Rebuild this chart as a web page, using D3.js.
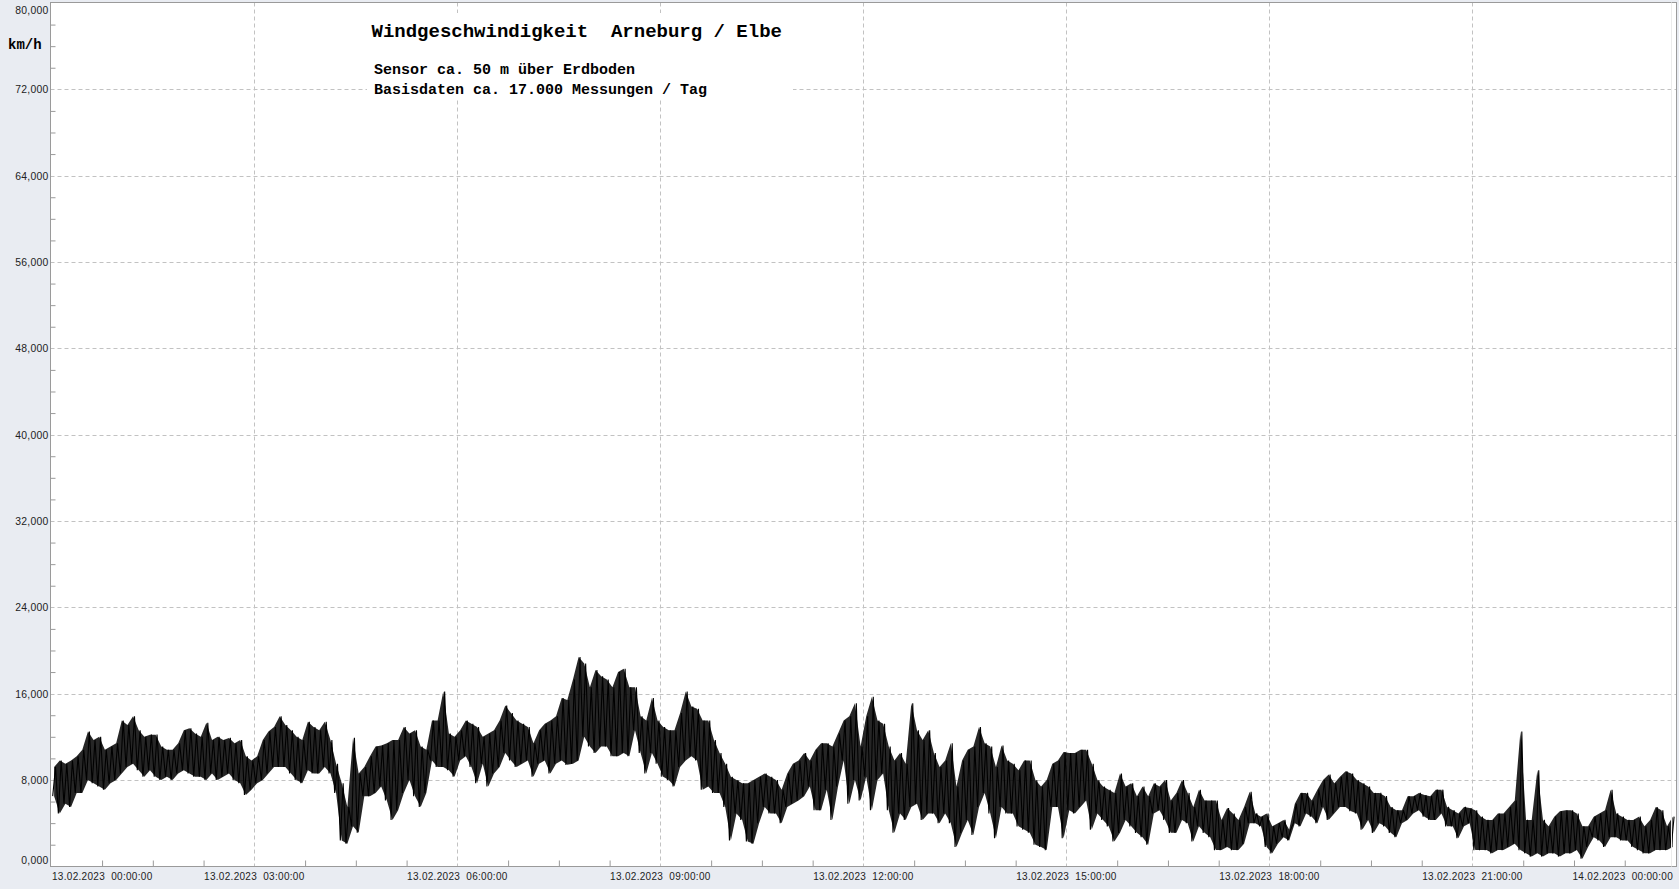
<!DOCTYPE html>
<html><head><meta charset="utf-8">
<script src="https://cdn.jsdelivr.net/npm/d3@7/dist/d3.min.js"></script>
<style>
html,body{margin:0;padding:0;background:#e9ecf2;overflow:hidden}
svg{display:block}
</style></head><body>
<svg id="chart" width="1679" height="889"></svg>
<script>
// ---- data ----
const startTime = new Date(2023, 1, 13, 0, 0, 0);
const endTime = new Date(2023, 1, 14, 0, 0, 0);
const binMinutes = 5;
// per 5-minute window: highest and lowest reading (km/h), one row = one hour
const hiValues = [
 9.2, 9.8, 9.5, 9.8,10.2,10.8,12.5,11.7,12.0,10.8,11.1,11.4,
13.5,13.1,13.9,12.6,12.0,12.2,12.2,11.1,10.8,10.8,11.4,12.6,
12.8,12.3,12.0,13.3,11.7,12.0,11.7,11.9,11.4,11.7,10.2, 9.8,
10.2,11.7,12.5,12.9,13.9,13.1,12.6,12.0,11.7,13.4,12.9,12.6,
13.4,11.7, 9.5, 7.7, 5.5,11.9, 8.6, 9.2,10.2,11.1,11.2,11.4,
11.7,11.7,12.9,12.3,12.6,11.1,10.8,13.5,13.5,16.2,12.3,12.0,
12.6,13.5,13.2,12.9,12.0,12.3,12.6,13.5,14.9,14.2,13.5,13.2,
12.9,11.4,12.6,13.2,13.5,13.9,15.6,15.4,17.3,19.4,18.8,16.6,
18.2,17.6,17.3,16.6,18.0,18.3,16.6,16.6,13.9,13.5,15.6,13.5,
12.9,12.6,12.6,14.2,16.2,14.8,14.6,13.5,13.5,11.7,10.5, 9.5,
 8.3, 8.0, 7.7, 7.7, 8.0, 8.3, 8.6, 8.3, 8.0, 7.1, 8.6, 9.5,
 9.8,10.5, 9.8,10.8,11.4,11.4,11.1,12.3,13.5,13.9,15.1,11.1,
13.9,15.7,13.5,13.2,11.1, 9.8,10.5, 9.5,15.1,12.6,11.7,12.6,
10.5, 9.2, 9.8,11.4, 7.4, 9.8,10.8,11.1,12.9,11.4,11.1, 9.2,
11.2, 9.8, 9.5, 8.9, 9.8, 9.8, 8.0, 7.4, 8.0, 9.5, 9.8,10.6,
10.5,10.5,10.8,10.8, 9.5, 8.0, 7.4, 7.1, 6.8, 8.6, 7.4, 7.7,
 6.5, 7.4, 6.5, 7.7, 7.4, 8.0, 6.1, 6.8, 8.0, 6.8, 5.5, 7.1,
 6.1, 6.1, 6.1, 4.3, 5.4, 4.9, 4.3, 5.5, 6.9, 4.9, 4.6, 4.9,
 3.7, 4.0, 4.3, 3.4, 5.8, 6.8, 6.8, 6.1, 7.1, 8.0, 8.5, 7.7,
 8.3, 8.8, 8.6, 8.0, 7.7, 7.4, 6.8, 6.8, 6.5, 5.5, 5.2, 5.2,
 6.5, 6.5, 6.8, 6.6, 6.5, 7.1, 7.1, 5.5, 5.2, 4.9, 5.5, 5.4,
 5.2, 4.6, 4.3, 4.3, 4.9, 4.9, 5.5, 6.1,12.5, 4.3, 4.3, 8.9,
 4.3, 3.7, 4.6, 5.1, 5.2, 5.2, 4.9, 3.7, 3.7, 4.6, 4.9, 5.2,
 7.1, 4.9, 4.6, 4.3, 4.3, 4.6, 3.7, 4.3, 5.5, 5.2, 3.7, 4.6
];
const loValues = [
 6.5, 4.9, 5.8, 5.5, 6.8, 6.8, 8.0, 7.7, 7.4, 7.1, 7.7, 8.0,
 8.6, 9.2, 9.5, 8.9, 8.3, 8.9, 8.3, 8.0, 8.3, 8.0, 8.6, 8.9,
 8.6, 8.3, 8.3, 8.0, 8.6, 8.0, 8.3, 8.6, 8.0, 7.7, 6.6, 7.1,
 7.7, 8.0, 8.6, 9.2, 9.2, 9.2, 8.6, 8.0, 7.7, 8.9, 8.6, 8.6,
 9.2, 8.6, 6.8, 2.4, 2.1, 3.7, 3.1, 6.5, 6.5, 6.8, 7.4, 6.1,
 4.3, 5.2, 6.8, 8.0, 6.5, 5.5, 6.8, 9.8, 9.2, 9.2, 8.9, 8.3,
 9.8,10.2, 9.2, 7.7, 9.5, 7.4, 8.6, 9.2,10.5, 9.8, 9.2, 9.5,
 9.8, 8.3, 9.5, 9.8, 8.6, 9.5, 9.8, 9.4, 9.5, 9.8,12.0,11.1,
10.5,11.1,11.1,10.2,10.2,10.5,10.2,12.6,10.5, 8.6,10.5, 9.5,
 8.3, 8.0, 7.4, 9.2, 9.8,10.2, 9.8, 7.1, 7.4, 6.8, 6.8, 5.5,
 2.4, 4.9, 4.3, 2.3, 2.1, 4.0, 5.5, 4.9, 4.9, 4.0, 5.5, 5.8,
 6.1, 6.5, 7.4, 5.2, 5.2, 7.1, 4.3, 7.4, 9.8, 5.8, 8.0, 6.1,
 8.3, 5.2, 8.0, 8.6, 5.2, 3.1, 4.9, 4.3, 5.5, 5.8, 4.3, 4.9,
 4.9, 4.0, 4.9, 4.0, 1.8, 3.1, 4.3, 2.9, 5.5, 6.8, 4.9, 2.6,
 5.5, 4.9, 4.9, 3.7, 3.4, 3.1, 2.0, 1.8, 1.5, 5.5, 5.5, 2.6,
 5.2, 4.9, 5.5, 6.1, 3.4, 4.9, 4.3, 3.7, 2.3, 3.1, 4.3, 3.7,
 3.1, 2.7, 2.0, 4.9, 5.2, 4.3, 3.1, 3.1, 4.3, 4.0, 2.3, 3.7,
 3.1, 2.7, 1.5, 1.5, 1.8, 1.5, 1.5, 2.1, 4.0, 4.0, 3.7, 1.8,
 1.2, 2.1, 2.7, 2.4, 4.0, 3.7, 4.9, 4.6, 4.0, 5.5, 4.3, 4.9,
 5.5, 5.5, 5.1, 4.9, 3.4, 4.3, 3.1, 4.0, 3.7, 3.1, 2.7, 4.0,
 4.3, 4.9, 5.2, 4.6, 4.3, 4.3, 4.9, 3.7, 3.7, 2.6, 3.7, 4.0,
 1.5, 1.5, 1.5, 1.2, 1.5, 1.5, 1.8, 2.1, 1.5, 1.2, 0.9, 1.2,
 0.9, 1.2, 1.2, 0.9, 1.2, 1.2, 1.5, 0.7, 1.8, 2.7, 2.4, 1.8,
 2.7, 2.7, 2.4, 2.4, 1.8, 1.5, 1.2, 1.2, 1.5, 1.5, 1.5, 1.8
];
const yTickValues = [0, 8, 16, 24, 32, 40, 48, 56, 64, 72, 80];
const yTickLabels = ["0,000","8,000","16,000","24,000","32,000","40,000","48,000","56,000","64,000","72,000","80,000"];
const xTickHours = [0, 3, 6, 9, 12, 15, 18, 21, 24];
const xTickLabels = ["13.02.2023  00:00:00","13.02.2023  03:00:00","13.02.2023  06:00:00","13.02.2023  09:00:00",
  "13.02.2023  12:00:00","13.02.2023  15:00:00","13.02.2023  18:00:00","13.02.2023  21:00:00","14.02.2023  00:00:00"];
const titleText = "Windgeschwindigkeit  Arneburg / Elbe";
const subtitleLines = ["Sensor ca. 50 m über Erdboden", "Basisdaten ca. 17.000 Messungen / Tag"];
const unitLabel = "km/h";

// ---- drawing ----
const svg = d3.select("#chart");
const plotLeft = 50.5, plotRight = 1676.5, plotTop = 2.5, plotBottom = 866.5;
const x = d3.scaleTime().domain([startTime, endTime]).range([51.3, 1675.5]);
const y = d3.scaleLinear().domain([0, 80]).range([866.3, 3]);
const hourDate = h => d3.timeHour.offset(startTime, h);

svg.append("rect").attr("width", 1679).attr("height", 889).attr("fill", "#e9ecf2");
svg.append("rect").attr("x", plotLeft).attr("y", plotTop)
  .attr("width", plotRight - plotLeft).attr("height", plotBottom - plotTop).attr("fill", "#fff");

const grid = svg.append("g").attr("stroke", "#c2c2c2").attr("stroke-width", 1).attr("stroke-dasharray", "4,3");
grid.selectAll("line.h").data(yTickValues.filter(v => v > 0 && v < 80)).join("line")
  .attr("x1", plotLeft).attr("x2", plotRight)
  .attr("y1", d => Math.round(y(d)) + 0.5).attr("y2", d => Math.round(y(d)) + 0.5);
grid.selectAll("line.v").data(xTickHours.filter(h => h > 0 && h < 24)).join("line")
  .attr("x1", d => Math.round(x(hourDate(d))) + 0.5).attr("x2", d => Math.round(x(hourDate(d))) + 0.5)
  .attr("y1", plotTop).attr("y2", plotBottom);

// minor ticks (axis generators)
const yMinor = d3.range(2, 80, 2).filter(v => v % 8 !== 0);
const yAxis = d3.axisLeft(y).tickValues(yMinor).tickSize(-5).tickFormat("");
const gy = svg.append("g").attr("transform", `translate(${plotLeft},0)`).call(yAxis);
gy.select(".domain").remove();
gy.selectAll("line").attr("stroke", "#9a9a9a");
const xMinor = d3.range(45, 24 * 60, 45).filter(m => m % 180 !== 0).map(m => d3.timeMinute.offset(startTime, m));
const xAxis = d3.axisBottom(x).tickValues(xMinor).tickSize(-6).tickFormat("");
const gx = svg.append("g").attr("transform", `translate(0,${plotBottom})`).call(xAxis);
gx.select(".domain").remove();
gx.selectAll("line").attr("stroke", "#9a9a9a");

// data: min/max envelope per window + zigzag trace
const windows = hiValues.map((hi, i) => ({
  t: d3.timeSecond.offset(startTime, Math.round((i + 0.5) * binMinutes * 60)), hi: hi, lo: loValues[i]
}));
const area = d3.area().x(d => x(d.t)).y0(d => y(d.lo)).y1(d => y(d.hi));
svg.append("path").datum(windows).attr("d", area).attr("fill", "#000").attr("fill-opacity", 0.85);

const points = [];
hiValues.forEach((hi, i) => {
  const t0 = i * binMinutes;
  points.push({ t: d3.timeSecond.offset(startTime, Math.round((t0 + binMinutes * 0.25) * 60)), v: loValues[i] });
  points.push({ t: d3.timeSecond.offset(startTime, Math.round((t0 + binMinutes * 0.75) * 60)), v: hi });
});
const line = d3.line().x(d => x(d.t)).y(d => y(d.v));
svg.append("path").datum(points).attr("d", line)
  .attr("fill", "none").attr("stroke", "#000").attr("stroke-width", 1.1).attr("stroke-linejoin", "miter");

// title box
svg.append("rect").attr("x", 367).attr("y", 13).attr("width", 426).attr("height", 85).attr("fill", "#fff");
const mono = "'Liberation Mono','Courier New',monospace";
svg.append("text").attr("x", 371.5).attr("y", 37).attr("font-family", mono).attr("font-weight", "bold")
  .attr("font-size", 19).attr("fill", "#000").attr("xml:space", "preserve").style("white-space", "pre").text(titleText);
svg.selectAll("text.sub").data(subtitleLines).join("text")
  .attr("x", 374).attr("y", (d, i) => 74 + i * 20).attr("font-family", mono).attr("font-weight", "bold")
  .attr("font-size", 15).attr("fill", "#000").text(d => d);
svg.append("text").attr("x", 8).attr("y", 49).attr("font-family", mono).attr("font-weight", "bold")
  .attr("font-size", 14).attr("fill", "#000").text(unitLabel);

// frame
svg.append("rect").attr("x", plotLeft).attr("y", plotTop)
  .attr("width", plotRight - plotLeft).attr("height", plotBottom - plotTop)
  .attr("fill", "none").attr("stroke", "#9a9a9a");
svg.append("line").attr("x1", 1671.5).attr("x2", 1671.5).attr("y1", plotTop).attr("y2", plotBottom)
  .attr("stroke", "#ececec");

// tick labels
const sans = "'Liberation Sans',Arial,sans-serif";
svg.selectAll("text.yl").data(yTickValues).join("text")
  .attr("x", 48.5).attr("y", d => Math.max(13.5, Math.min(864, y(d) + 4)))
  .attr("text-anchor", "end").attr("font-family", sans).attr("font-size", 10.4).attr("letter-spacing", 0.25)
  .attr("fill", "#222")
  .text((d, i) => yTickLabels[i]);
svg.selectAll("text.xl").data(xTickHours).join("text")
  .attr("x", (d, i) => i === 0 ? 52 : (i === xTickHours.length - 1 ? 1673 : x(hourDate(d))))
  .attr("y", 879.5)
  .attr("text-anchor", (d, i) => i === 0 ? "start" : (i === xTickHours.length - 1 ? "end" : "middle"))
  .attr("font-family", sans).attr("font-size", 10).attr("letter-spacing", 0.3).attr("fill", "#222")
  .attr("xml:space", "preserve").style("white-space", "pre")
  .text((d, i) => xTickLabels[i]);
</script>
</body></html>
